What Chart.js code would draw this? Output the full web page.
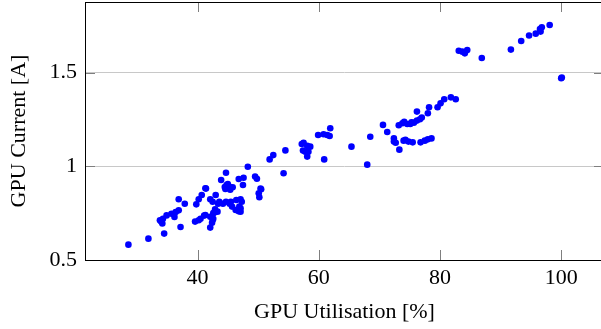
<!DOCTYPE html>
<html><head><meta charset="utf-8">
<script src="https://cdn.jsdelivr.net/npm/chart.js@4/dist/chart.umd.min.js"></script>
<style>html,body{margin:0;padding:0;overflow:hidden;background:#fff}#wrap{position:relative;width:604px;height:329px}</style>
</head><body><div id="wrap"><canvas id="c" width="604" height="329"></canvas></div>
<script>
const utilisation = [28.6,31.9,34.5,37.2,34.0,33.8,34.3,34.9,35.7,36.4,36.9,36.2,34.2,36.9,37.9,39.6,40.2,39.8,40.2,40.7,41.4,41.1,42.1,42.4,42.5,42.1,42.8,43.3,42.1,42.5,43.0,43.6,43.9,44.7,44.6,44.8,45.3,45.8,44.7,45.5,45.7,46.3,47.1,47.1,47.3,46.9,46.8,47.6,47.5,48.3,49.5,49.8,50.4,50.1,50.2,54.2,51.9,52.5,54.5,57.2,57.5,58.1,58.6,57.4,57.8,58.3,58.1,59.9,60.8,61.4,61.8,61.9,60.9,65.4,68.0,68.5,70.6,71.3,72.4,72.4,72.7,73.3,73.2,74.1,74.6,75.1,75.7,76.2,76.7,76.2,74.3,74.8,75.5,76.8,77.5,78.0,78.6,78.0,78.2,79.6,80.1,80.7,81.8,82.6,83.1,83.7,84.1,84.5,86.9,91.7,93.4,94.7,95.8,96.6,96.8,96.5,98.1,100.0,100.1,44.5,45.0,45.4,41.3,50.5,43.4,44.2,45.3,46.4,47.1,46.8,42.9,42.6,41.3,40.5,42.6,74.0,73.8,75.3,77.0];
const current = [0.582,0.614,0.641,0.676,0.705,0.712,0.720,0.738,0.747,0.756,0.765,0.730,0.695,0.824,0.800,0.705,0.712,0.797,0.824,0.847,0.881,0.737,0.673,0.699,0.713,0.731,0.753,0.758,0.824,0.811,0.847,0.811,0.927,0.966,0.879,0.900,0.891,0.888,0.811,0.811,0.785,0.767,0.758,0.824,0.811,0.785,0.932,0.939,0.900,0.998,0.945,0.934,0.881,0.856,0.835,0.963,1.037,1.060,1.085,1.119,1.126,1.109,1.105,1.084,1.078,1.078,1.052,1.167,1.171,1.167,1.162,1.203,1.037,1.105,1.009,1.158,1.221,1.183,1.149,1.132,1.126,1.089,1.219,1.238,1.226,1.226,1.233,1.244,1.251,1.292,1.141,1.132,1.128,1.128,1.137,1.144,1.149,1.283,1.315,1.315,1.336,1.358,1.368,1.358,1.617,1.612,1.603,1.621,1.578,1.623,1.669,1.698,1.708,1.719,1.742,1.733,1.754,1.470,1.474,0.890,0.905,0.875,0.883,0.877,0.800,0.800,0.800,0.820,0.776,0.760,0.770,0.750,0.740,0.720,0.720,1.137,1.230,1.235,1.260];
const xTicks = [40,60,80,100];
const yTicks = [0.5,1,1.5];
const xTitle = 'GPU Utilisation [%]';
const yTitle = 'GPU Current [A]';

const points = utilisation.map((u,i)=>({x:u,y:current[i]}));
const FONT = {family:'"Liberation Serif", serif', size:22};

const boxPlugin = {
  id:'box',
  afterDraw(chart){
    const {ctx, chartArea:a, scales:{x,y}} = chart;
    ctx.save();
    ctx.strokeStyle = '#7f7f7f'; ctx.lineWidth = 1;
    const L = 10;
    xTicks.forEach(v=>{
      const p = Math.round(x.getPixelForValue(v))+0.5;
      ctx.beginPath(); ctx.moveTo(p,a.bottom); ctx.lineTo(p,a.bottom-L);
      ctx.moveTo(p,a.top); ctx.lineTo(p,a.top+L); ctx.stroke();
    });
    yTicks.forEach(v=>{
      const p = Math.round(y.getPixelForValue(v))+0.5;
      ctx.beginPath(); ctx.moveTo(a.left,p); ctx.lineTo(a.left+L,p);
      ctx.moveTo(a.right,p); ctx.lineTo(a.right-L,p); ctx.stroke();
    });
    ctx.strokeStyle = '#000';
    ctx.strokeRect(a.left+0.5, a.top+0.5, a.right-a.left-1, a.bottom-a.top);
    ctx.restore();
  }
};

new Chart(document.getElementById('c'), {
  type:'scatter',
  data:{datasets:[{data:points, backgroundColor:'#0000ff', borderColor:'#0000ff', pointRadius:3.3, pointHoverRadius:3.3, borderWidth:0}]},
  options:{
    responsive:false, animation:false, events:[],
    layout:{padding:{top:2,right:0,left:0,bottom:0}, autoPadding:false},
    plugins:{legend:{display:false}, tooltip:{enabled:false}},
    scales:{
      x:{type:'linear', min:21.44, max:107.06,
        afterBuildTicks:s=>{s.ticks = xTicks.map(v=>({value:v}));},
        afterFit:s=>{s.height = 69; s.paddingLeft = 0; s.paddingRight = 0;},
        grid:{display:false, drawTicks:false},
        border:{display:false},
        ticks:{font:FONT, color:'#000', padding:5, maxRotation:0, callback:v=>String(v)},
        title:{display:true, text:xTitle, font:FONT, color:'#000', padding:{top:4,bottom:4}}
      },
      y:{type:'linear', min:0.5, max:1.877,
        afterBuildTicks:s=>{s.ticks = yTicks.map(v=>({value:v}));},
        afterFit:s=>{s.width = 85; s.paddingTop = 0; s.paddingBottom = 0;},
        grid:{color:'#c8c8c8', drawTicks:false, lineWidth:1},
        border:{display:false},
        ticks:{font:FONT, color:'#000', padding:8, callback:v=>String(v)},
        title:{display:true, text:yTitle, font:FONT, color:'#000', padding:{top:6,bottom:4}}
      }
    }
  },
  plugins:[boxPlugin]
});
</script></body></html>
